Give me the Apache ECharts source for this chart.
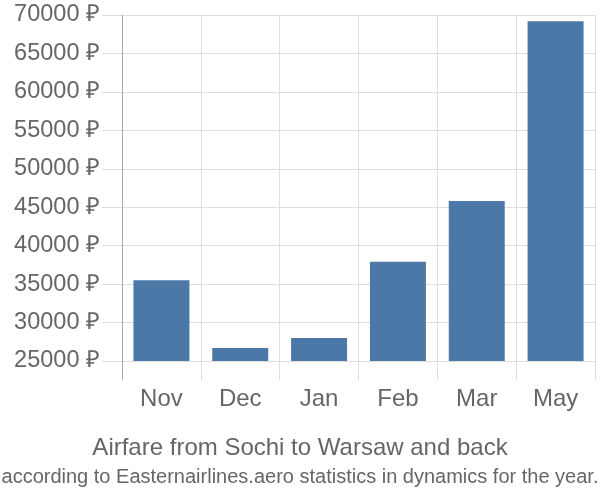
<!DOCTYPE html>
<html><head><meta charset="utf-8">
<script src="https://cdn.jsdelivr.net/npm/echarts@6/dist/echarts.min.js"></script>
<style>html,body{margin:0;padding:0;background:#fff}#c{width:600px;height:500px}</style>
</head><body><div id="c"></div>
<script>
const categories = ['Nov','Dec','Jan','Feb','Mar','May'];
const prices = [35500, 26700, 28000, 37900, 45800, 69200];
const yTicks = [25000, 70000, 5000];

const chart = echarts.init(document.getElementById('c'), null, {renderer:'canvas'});
const font = 'Liberation Sans, Arial, sans-serif';
chart.setOption({
  animation: false,
  backgroundColor: '#fff',
  title: [
    {text: 'Airfare from Sochi to Warsaw and back', left: 'center', top: 431,
     textStyle: {fontFamily: font, fontSize: 24, fontWeight: 'normal', color: '#666'}},
    {text: 'according to Easternairlines.aero statistics in dynamics for the year.', left: 'center', top: 462,
     textStyle: {fontFamily: 'Liberation Sans Narrow, Arial Narrow, sans-serif', fontSize: 20, fontWeight: 'normal', color: '#666'}}
  ],
  grid: [
    {left: 122, right: 5, top: 15, bottom: 139, containLabel: false},
    {left: 122, right: 5, top: 15, bottom: 120, containLabel: false}
  ],
  xAxis: [
    {type: 'category', gridIndex: 0, data: categories,
     axisLine: {show: false}, axisTick: {show: false}, axisLabel: {show: false}, splitLine: {show: false}},
    {type: 'category', gridIndex: 1, data: categories,
     axisLine: {show: false}, axisTick: {show: false},
     axisLabel: {show: true, margin: 7, fontFamily: font, fontSize: 24, color: '#666'},
     splitLine: {show: true, lineStyle: {color: '#ddd', width: 1}}}
  ],
  yAxis: [
    {type: 'value', gridIndex: 0, min: yTicks[0], max: yTicks[1], interval: yTicks[2],
     axisLine: {show: false},
     axisTick: {show: true, length: 20, lineStyle: {color: '#ddd'}},
     axisLabel: {margin: 22, fontFamily: font, fontSize: 23.5, color: '#666', formatter: v => v + ' ₽'},
     splitLine: {show: true, lineStyle: {color: '#ddd', width: 1}}},
    {type: 'value', gridIndex: 1, min: 0, max: 1,
     axisLine: {show: true, lineStyle: {color: '#aaa', width: 1}},
     axisTick: {show: false}, axisLabel: {show: false}, splitLine: {show: false}}
  ],
  series: [{
    type: 'bar', xAxisIndex: 0, yAxisIndex: 0, data: prices,
    barCategoryGap: '29%',
    itemStyle: {color: '#4c78a8'}
  }]
});
</script></body></html>
